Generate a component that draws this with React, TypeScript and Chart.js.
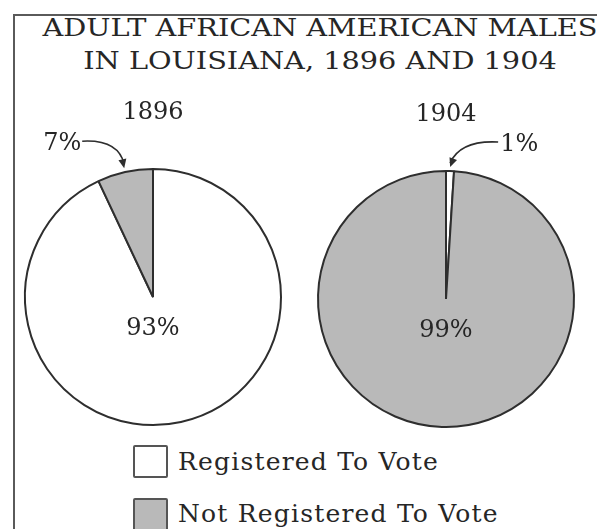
import React, { useEffect, useRef } from "react";
import { Chart, registerables } from "chart.js";

Chart.register(...registerables);

// ---- data ----
const TITLE_LINES = ["ADULT AFRICAN AMERICAN MALES", "IN LOUISIANA, 1896 AND 1904"];
const CATEGORIES = ["Registered To Vote", "Not Registered To Vote"];
const YEARS = ["1896", "1904"];
const VALUES_1896 = [93, 7];
const VALUES_1904 = [1, 99];

// ---- style ----
const COLORS = ["#ffffff", "#b9b9b9"];
const TEXT = "#262626";
const LINE = "#2e2e2e";
const FONT = '"DejaVu Serif", serif';

type Callout = { dx: number; dy: number; side: "left" | "right" };

function makeDecor(year: string, callout: Callout) {
  return {
    id: "pieDecor",
    afterDatasetsDraw(chart: any) {
      const ctx: CanvasRenderingContext2D = chart.ctx;
      const meta = chart.getDatasetMeta(0);
      const data = chart.data.datasets[0].data as number[];
      const big = data.indexOf(Math.max(...data));
      const small = big === 0 ? 1 : 0;
      const arc = meta.data[small];
      const { x, y, outerRadius, startAngle, endAngle } = arc.getProps([
        "x",
        "y",
        "outerRadius",
        "startAngle",
        "endAngle",
      ]);
      ctx.save();
      ctx.fillStyle = TEXT;
      ctx.font = `24px ${FONT}`;
      ctx.textAlign = "center";
      ctx.textBaseline = "alphabetic";
      // main percentage
      ctx.fillText(`${data[big]}%`, x, y + outerRadius * 0.3);
      // year label
      ctx.fillText(year, x, y - outerRadius - 50);

      // callout with curved arrow
      const mid = (startAngle + endAngle) / 2;
      const tipX = x + Math.cos(mid) * (outerRadius + 4);
      const tipY = y + Math.sin(mid) * (outerRadius + 4);
      const sx = tipX + callout.dx;
      const sy = tipY + callout.dy;
      const cx = tipX + (callout.side === "left" ? -6 : 10);
      const cy = sy - 2;
      ctx.strokeStyle = LINE;
      ctx.lineWidth = 1.6;
      ctx.beginPath();
      ctx.moveTo(sx, sy);
      ctx.quadraticCurveTo(cx, cy, tipX, tipY - 4);
      ctx.stroke();
      // arrow head
      const ang = Math.atan2(tipY - cy, tipX - cx);
      const hl = 9;
      const hw = 4;
      const bx = tipX - Math.cos(ang) * hl;
      const by = tipY - Math.sin(ang) * hl;
      ctx.fillStyle = LINE;
      ctx.beginPath();
      ctx.moveTo(tipX, tipY);
      ctx.lineTo(bx + Math.sin(ang) * hw, by - Math.cos(ang) * hw);
      ctx.lineTo(bx - Math.sin(ang) * hw, by + Math.cos(ang) * hw);
      ctx.closePath();
      ctx.fill();
      // small percentage text
      ctx.fillStyle = TEXT;
      ctx.font = `24px ${FONT}`;
      ctx.textAlign = callout.side === "left" ? "right" : "left";
      ctx.fillText(`${data[small]}%`, sx + (callout.side === "left" ? -1 : 2), sy + 9);
      ctx.restore();
    },
  };
}

function PieCanvas(props: {
  values: number[];
  year: string;
  width: number;
  height: number;
  padding: { left: number; right: number; top: number; bottom: number };
  callout: Callout;
  style: React.CSSProperties;
}) {
  const ref = useRef<HTMLCanvasElement | null>(null);
  useEffect(() => {
    if (!ref.current) return;
    const chart = new Chart(ref.current, {
      type: "pie",
      data: {
        labels: CATEGORIES,
        datasets: [
          {
            data: props.values,
            backgroundColor: COLORS,
            borderColor: LINE,
            borderWidth: 2,
            radius: 128,
          } as any,
        ],
      },
      options: {
        animation: false,
        responsive: false,
        devicePixelRatio: 1,
        layout: { padding: props.padding },
        plugins: {
          legend: { display: false },
          tooltip: { enabled: false },
          title: { display: false },
        },
      },
      plugins: [makeDecor(props.year, props.callout)],
    });
    return () => chart.destroy();
  }, []);
  return (
    <canvas
      ref={ref}
      width={props.width}
      height={props.height}
      style={{ position: "absolute", ...props.style }}
    />
  );
}

export default function App() {
  const txt: React.CSSProperties = {
    position: "absolute",
    fontFamily: FONT,
    color: TEXT,
    whiteSpace: "nowrap",
  };
  return (
    <div
      style={{
        position: "absolute",
        left: 0,
        top: 0,
        width: 597,
        height: 529,
        overflow: "hidden",
        background: "#ffffff",
      }}
    >
      <div
        style={{
          position: "absolute",
          left: 13,
          top: 14,
          width: 700,
          height: 700,
          borderLeft: "2px solid #5a5a5a",
          borderTop: "2px solid #5a5a5a",
        }}
      />
      {TITLE_LINES.map((t, i) => (
        <div
          key={t}
          style={{
            ...txt,
            left: 0,
            width: 640,
            top: 13 + i * 33,
            fontSize: 25,
            lineHeight: "30px",
            textAlign: "center",
            transform: "scaleX(1.15)",
            transformOrigin: "320px 0",
          }}
        >
          {t}
        </div>
      ))}
      <PieCanvas
        values={VALUES_1896}
        year={YEARS[0]}
        width={300}
        height={345}
        padding={{ left: 20, right: 14, top: 74, bottom: 5 }}
        callout={{ dx: -42, dy: -27, side: "left" }}
        style={{ left: 0, top: 90 }}
      />
      <PieCanvas
        values={VALUES_1904}
        year={YEARS[1]}
        width={297}
        height={345}
        padding={{ left: 14, right: 19, top: 76, bottom: 3 }}
        callout={{ dx: 48, dy: -25, side: "right" }}
        style={{ left: 300, top: 90 }}
      />
      {CATEGORIES.map((c, i) => (
        <React.Fragment key={c}>
          <div
            style={{
              position: "absolute",
              left: 133,
              top: 445 + i * 53,
              width: 31,
              height: 29,
              border: "2px solid #555",
              borderRadius: 2,
              background: COLORS[i],
            }}
          />
          <div
            style={{
              ...txt,
              left: 178,
              top: 447 + i * 52,
              fontSize: 25,
              lineHeight: "30px",
              letterSpacing: "1.2px",
            }}
          >
            {c}
          </div>
        </React.Fragment>
      ))}
    </div>
  );
}
